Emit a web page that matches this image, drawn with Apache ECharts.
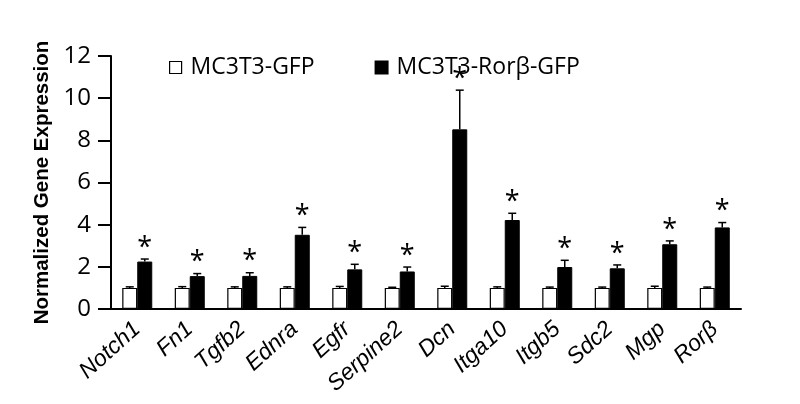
<!DOCTYPE html>
<html>
<head>
<meta charset="utf-8">
<script src="https://cdn.jsdelivr.net/npm/echarts@6/dist/echarts.min.js"></script>
<style>
  html, body { margin: 0; padding: 0; background: #fff; }
  #chart { width: 800px; height: 404px; }
</style>
</head>
<body>
<div id="chart"></div>
<script>
// 基因名稱
var genes = ['Notch1', 'Fn1', 'Tgfb2', 'Ednra', 'Egfr', 'Serpine2', 'Dcn', 'Itga10', 'Itgb5', 'Sdc2', 'Mgp', 'Rorβ'];
// MC3T3-GFP 對照組
var gfpValues = [1, 1, 1, 1, 1, 1, 1, 1, 1, 1, 1, 1];
var gfpErrors = [0.05, 0.06, 0.05, 0.05, 0.07, 0.03, 0.08, 0.05, 0.04, 0.04, 0.08, 0.04];
// MC3T3-Rorβ-GFP
var rorValues = [2.25, 1.56, 1.57, 3.52, 1.88, 1.78, 8.52, 4.22, 1.99, 1.93, 3.07, 3.87];
var rorErrors = [0.12, 0.12, 0.15, 0.35, 0.24, 0.21, 1.86, 0.32, 0.32, 0.16, 0.16, 0.23];
// y 軸刻度
var yTicks = [0, 2, 4, 6, 8, 10, 12];

var barW = 15;

// 誤差線（只畫向上）+ 星號
function errorBarRenderer(values, errors, offset, star) {
    return function(params, api) {
        var i = api.value(0);
        var top = api.coord([i, values[i] + errors[i]]);
        var base = api.coord([i, values[i]]);
        var x = top[0] + offset;
        var children = [
            { type: 'line', shape: { x1: x, y1: base[1], x2: x, y2: top[1] },
              style: { stroke: '#000', lineWidth: 1.5 } },
            { type: 'line', shape: { x1: x - 4, y1: top[1], x2: x + 4, y2: top[1] },
              style: { stroke: '#000', lineWidth: 1.5 } }
        ];
        if (star) {
            children.push({ type: 'text', style: {
                x: x, y: top[1] - 11, text: '*', fill: '#000',
                font: '27px "Open Sans"', align: 'center', verticalAlign: 'middle'
            } });
        }
        return { type: 'group', children: children };
    };
}

var chart = echarts.init(document.getElementById('chart'));
chart.setOption({
    animation: false,
    grid: { left: 111, right: 59, top: 56, bottom: 95 },
    legend: {
        left: 164, top: 51, itemWidth: 12, itemHeight: 12, itemGap: 60,
        textStyle: { fontFamily: 'Open Sans', fontSize: 23, color: '#000', padding: [0, 0, 0, 4] },
        data: [
            { name: 'MC3T3-GFP', icon: 'rect', itemStyle: { color: '#fff', borderColor: '#000', borderWidth: 1.2 } },
            { name: 'MC3T3-Rorβ-GFP', icon: 'rect', itemStyle: { color: '#000' } }
        ]
    },
    xAxis: {
        type: 'category',
        data: genes,
        axisLine: { lineStyle: { color: '#000', width: 2 } },
        axisTick: { show: false },
        axisLabel: {
            interval: 0, rotate: 42, margin: 17, padding: [0, 0, 40, 0],
            fontFamily: 'Liberation Sans', fontStyle: 'italic', fontSize: 23, color: '#000'
        }
    },
    yAxis: {
        type: 'value', min: yTicks[0], max: yTicks[yTicks.length - 1], interval: 2,
        name: 'Normalized Gene Expression', nameLocation: 'middle', nameGap: 47,
        nameTextStyle: { fontFamily: 'Liberation Sans', fontWeight: 'bold', fontSize: 20.5, color: '#000' },
        axisLine: { show: true, lineStyle: { color: '#000', width: 2 } },
        axisTick: { show: true, length: 13, lineStyle: { color: '#000', width: 2 } },
        axisLabel: { margin: 20, fontFamily: 'Open Sans', fontSize: 24, color: '#000' },
        splitLine: { show: false }
    },
    series: [
        { name: 'MC3T3-GFP', type: 'bar', data: gfpValues, barWidth: barW, barGap: '0%',
          itemStyle: { color: '#fff', borderColor: '#000', borderWidth: 1.2 } },
        { name: 'MC3T3-Rorβ-GFP', type: 'bar', data: rorValues, barWidth: barW, barGap: '0%',
          itemStyle: { color: '#000', borderColor: '#000', borderWidth: 1 } },
        { type: 'custom', data: genes.map(function(g, i) { return [i]; }), z: 5,
          renderItem: errorBarRenderer(gfpValues, gfpErrors, -barW / 2, false) },
        { type: 'custom', data: genes.map(function(g, i) { return [i]; }), z: 5,
          renderItem: errorBarRenderer(rorValues, rorErrors, barW / 2, true) }
    ]
});
</script>
</body>
</html>
